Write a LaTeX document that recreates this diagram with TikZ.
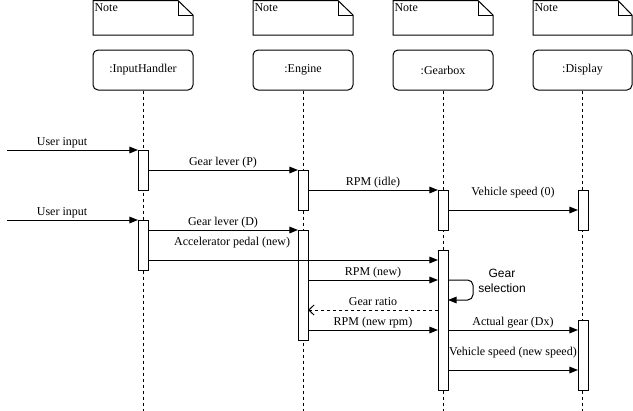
\documentclass[tikz,border=0pt]{standalone}
\usepackage{fontspec}
\setmainfont{Liberation Serif}
\setsansfont{Liberation Sans}
\usetikzlibrary{arrows.meta}

\tikzset{
  txt/.style={font=\fontsize{9pt}{11pt}\selectfont},
  head/.style={draw, rounded corners=3.75pt, minimum width=75pt, minimum height=30pt, inner sep=0pt, txt},
  life/.style={dash pattern=on 2.25pt off 2.25pt},
  act/.style={draw, fill=white, minimum width=7.5pt, inner sep=0pt, outer sep=0pt},
  msg/.style={-{Triangle[length=6.5pt,width=5pt]}},
  reply/.style={dash pattern=on 2.25pt off 2.25pt, -{Straight Barb[length=4pt,width=7.5pt]}},
  lbl/.style={anchor=base, inner sep=0pt, yshift=3.75pt, txt},
  lblhi/.style={anchor=base, inner sep=0pt, yshift=11.25pt, txt},
}

\begin{document}
\begin{tikzpicture}[x=0.75pt,y=0.75pt,yscale=-1,xscale=1,line width=0.75pt]
\useasboundingbox (0,0) rectangle (633,411);

%Shape: Note
\draw (93,0.5) -- (178,0.5) -- (193,15) -- (193,35) -- (93,35) -- cycle ;
\draw (178,0.5) -- (178,15) -- (193,15) ;
\draw (253,0.5) -- (338,0.5) -- (353,15) -- (353,35) -- (253,35) -- cycle ;
\draw (338,0.5) -- (338,15) -- (353,15) ;
\draw (393,0.5) -- (478,0.5) -- (493,15) -- (493,35) -- (393,35) -- cycle ;
\draw (478,0.5) -- (478,15) -- (493,15) ;
\draw (533,0.5) -- (618,0.5) -- (632,15) -- (632,35) -- (533,35) -- cycle ;
\draw (618,0.5) -- (618,15) -- (632,15) ;
% Text Node
\node [anchor=base west, inner sep=0pt, txt] (n1) at (94,11.5) {Note};
\node [anchor=base west, inner sep=0pt, txt] (n2) at (254,11.5) {Note};
\node [anchor=base west, inner sep=0pt, txt] (n3) at (394,11.5) {Note};
\node [anchor=base west, inner sep=0pt, txt] (n4) at (534,11.5) {Note};

%Lifelines
\node [head] (ih) at (143,70) {:InputHandler};
\node [head] (eng) at (303,70) {:Engine};
\node [head] (gb) at (443,70) {:Gearbox};
\node [head, minimum width=74.25pt] (disp) at (582.5,70) {:Display};
\draw [life] (ih.south) -- (ih.south |- 0,411) ;
\draw [life] (eng.south) -- (eng.south |- 0,411) ;
\draw [life] (gb.south) -- (gb.south |- 0,411) ;
\draw [life] (disp.south) -- (disp.south |- 0,411) ;

%Activations
\node [act, minimum height=30pt] (ih1) at (143,170) {};
\node [act, minimum height=37.5pt] (ih2) at (143,245) {};
\node [act, minimum height=30pt] (eng1) at (303,190) {};
\node [act, minimum height=82.5pt] (eng2) at (303,285) {};
\node [act, minimum height=30pt] (gb1) at (443,210) {};
\node [act, minimum height=105pt] (gb2) at (443,320) {};
\node [act, minimum height=30pt] (disp1) at (583,210) {};
\node [act, minimum height=52.5pt] (disp2) at (583,355) {};

\coordinate (u1) at (7,150);
\coordinate (u2) at (7,220);

%Messages
\draw [msg] (u1) -- node [lbl, pos=0.42] {User input} (ih1.north west) ;
\draw [msg] (ih1.east |- eng1.north) -- node [lbl] {Gear lever (P)} (eng1.north west) ;
\draw [msg] (eng1.east |- gb1.north) -- node [lbl] {RPM (idle)} (gb1.north west) ;
\draw [msg] (gb1.east) -- node [lblhi] {Vehicle speed (0)} (disp1.west) ;
\draw [msg] (u2) -- node [lbl, pos=0.42] {User input} (ih2.north west) ;
\draw [msg] (ih2.east |- eng2.north) -- node [lbl] {Gear lever (D)} (eng2.north west) ;
\draw [msg] (ih2.east |- 0,260) -- node [lblhi, pos=0.29] {Accelerator pedal (new)} (gb2.west |- 0,260) ;
\draw [msg] (eng2.east |- 0,280) -- node [lbl] {RPM (new)} (gb2.west |- 0,280) ;
\draw [msg, rounded corners=4pt] (gb2.east |- 0,280) -- (473,280) -- (473,300) -- (gb2.east |- 0,300) ;
\node [align=center, inner sep=0pt, font=\sffamily\fontsize{9pt}{11pt}\selectfont] (sel) at (502,281) {Gear\\selection};
\draw [reply] (gb2.west |- 0,310) -- node [lbl] {Gear ratio} (eng2.east |- 0,310) ;
\draw [msg] (eng2.east |- 0,330) -- node [lbl] {RPM (new rpm)} (gb2.west |- 0,330) ;
\draw [msg] (gb2.east |- 0,330) -- node [lbl] {Actual gear (Dx)} (disp2.west |- 0,330) ;
\draw [msg] (gb2.east |- 0,370) -- node [lblhi] {Vehicle speed (new speed)} (disp2.west |- 0,370) ;

\end{tikzpicture}
\end{document}
